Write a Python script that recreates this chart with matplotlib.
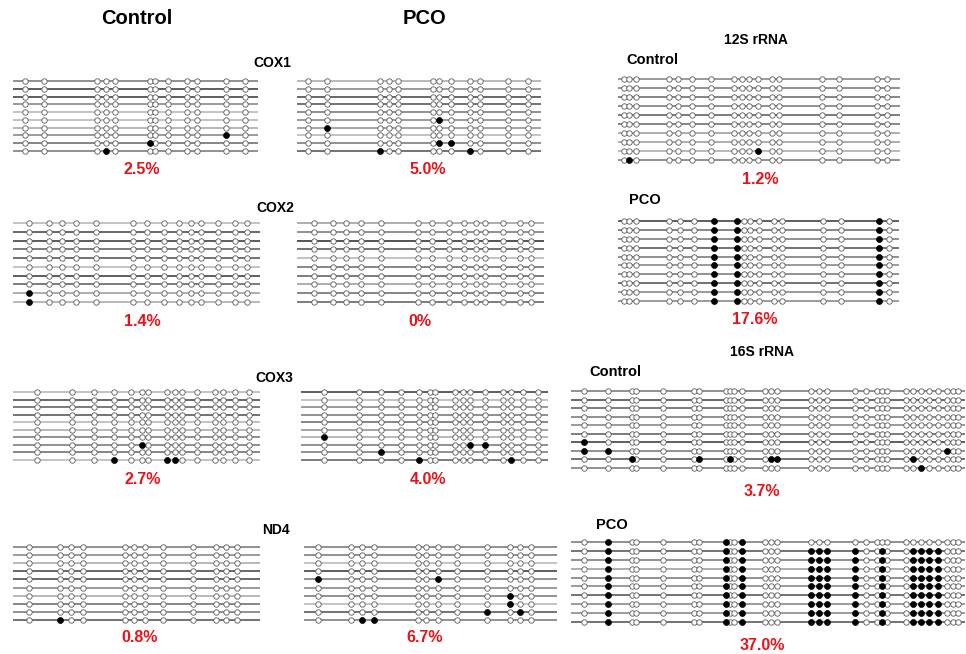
import matplotlib.pyplot as plt
import numpy as np

plt.rcParams['font.family'] = ['Liberation Sans', 'DejaVu Sans']

# CpG site positions along each amplicon (px) and methylated sites per clone (row)
cox1_ctrl_sites = [24.7, 43.7, 97.3, 106.3, 115.3, 150.3, 155.3, 168, 187, 197, 225.7, 244.7]
cox1_ctrl_meth = [[], [], [], [], [], [], [], [10], [5], [3]]
cox1_pco_sites = [307.7, 327, 380.3, 389.3, 398, 433, 438.7, 451.3, 470.3, 480.3, 508, 527.7]
cox1_pco_meth = [[], [], [], [], [], [6], [1], [], [6, 7], [2, 8]]

cox2_ctrl_sites = [28.7, 48.7, 62, 76.3, 96.3, 133, 147.3, 164, 178.7, 191.3, 200.7, 218, 235.3, 247.3]
cox2_ctrl_meth = [[], [], [], [], [], [], [], [], [0], [0]]
cox2_pco_sites = [313.7, 332.7, 346, 361, 381.3, 418, 432, 448.7, 463.7, 476.3, 485.3, 502.7, 520.3, 531.3]
cox2_pco_meth = [[] for _ in range(10)]

cox3_ctrl_sites = [37, 72, 94, 114, 131.3, 142.3, 148, 167.3, 175.3, 182, 197.3, 214.7, 223, 234.7, 248.7]
cox3_ctrl_meth = [[], [], [], [], [], [], [], [5], [], [3, 7, 8]]
cox3_pco_sites = [324.3, 358.7, 381.3, 401.3, 418.7, 429.7, 435.3, 454.7, 462.7, 470.3, 485.3, 502.7, 511.3, 523, 537.7]
cox3_pco_meth = [[], [], [], [], [], [], [0], [9, 10], [2], [4, 12]]

nd4_ctrl_sites = [28.7, 59.7, 70.7, 83, 125.3, 134, 144.7, 163, 193, 216.3, 226.3, 237.3]
nd4_ctrl_meth = [[], [], [], [], [], [], [], [], [], [1]]
nd4_pco_sites = [318, 351.3, 362, 373.7, 418, 426.3, 437.7, 457, 487, 510.3, 520.3, 531.3]
nd4_pco_meth = [[], [], [], [], [0, 6], [], [9], [9], [8, 10], [2, 3]]

s12_ctrl_sites = [623.7, 629.3, 636, 668.7, 677.7, 692, 711, 734.3, 742, 748.7, 758, 772, 778.7, 822, 838.7, 877, 887]
s12_ctrl_meth = [[], [], [], [], [], [], [], [], [10], [1]]
s12_pco_sites = [623.7, 629.3, 636, 668.7, 680.3, 693.7, 713.7, 737, 743.7, 750.3, 758.7, 773.7, 782, 822.7, 841, 878.7, 889.3]
s12_pco_meth = [[6, 7, 15] for _ in range(10)]

s16_sites = [584.3, 608.3, 631.7, 635.7, 662.7, 694.3, 699.3, 725.7, 730, 734.3, 741.7, 765, 771, 777.3,
             811, 819, 826.7, 855, 866, 876.7, 882.3, 887.3, 905.7, 913.3, 921, 929, 937.7, 946.7, 952.5, 958.3]
s16_ctrl_meth = [[], [], [], [], [], [], [0], [0, 1, 27], [2, 6, 8, 12, 13, 23], [24]]
s16_pco_meth = [[1, 7, 10]] + [[1, 7, 10, 14, 15, 16, 17, 20, 23, 24, 25, 26] for _ in range(9)]

# grey level of each clone line
shades = {
    'cox1c': [.45, .2, .2, .5, .7, .7, .65, .5, .4, .45],
    'cox1p': [.65, .5, .25, .3, .45, .5, .55, .7, .45, .3],
    'cox2c': [.7, .25, .2, .35, .3, .7, .2, .35, .6, .65],
    'cox2p': [.6, .45, .15, .3, .7, .4, .35, .6, .4, .35],
    'cox3c': [.7, .25, .35, .3, .7, .65, .45, .45, .4, .7],
    'cox3p': [.2, .7, .5, .45, .4, .55, .65, .45, .45, .35],
    'nd4c': [.45, .5, .65, .25, .25, .5, .65, .4, .45, .3],
    'nd4p': [.45, .45, .7, .2, .45, .5, .45, .7, .3, .45],
    's12c': [.5, .45, .4, .45, .35, .4, .6, .6, .65, .45],
    's12p': [.2, .4, .45, .3, .45, .5, .45, .3, .5, .5],
    's16c': [.45, .25, .35, .45, .5, .35, .2, .45, .3, .45],
    's16p': [.45, .3, .45, .6, .45, .5, .3, .5, .5, .3],
}

fig = plt.figure(figsize=(9.66, 6.54), dpi=100)
ax = fig.add_axes([0, 0, 1, 1])
ax.set_xlim(0, 966)
ax.set_ylim(654, 0)
ax.axis('off')


def panel(sites, meth, shade, x0, x1, ytop, ybot, pct, px, py):
    ys = np.linspace(ytop, ybot, len(meth))
    for r, y in enumerate(ys):
        ax.plot([x0, x1], [y, y], color=str(shade[r]), lw=1.1, zorder=1, solid_capstyle='butt')
        ox = [s for i, s in enumerate(sites) if i not in meth[r]]
        fx = [sites[i] for i in meth[r]]
        ax.plot(ox, [y] * len(ox), 'o', ms=3.9, mfc='white', mec='0.35', mew=0.6, zorder=2)
        ax.plot(fx, [y] * len(fx), 'o', ms=4.3, mfc='black', mec='black', mew=0.5, zorder=3)
    ax.text(px, py, pct, color='#e8141b', fontsize=11.5, fontweight='bold', ha='center', va='center')


panel(cox1_ctrl_sites, cox1_ctrl_meth, shades['cox1c'], 13, 258, 81, 151, '2.5%', 142, 170)
panel(cox1_pco_sites, cox1_pco_meth, shades['cox1p'], 297, 541, 81, 151, '5.0%', 428, 170)
panel(cox2_ctrl_sites, cox2_ctrl_meth, shades['cox2c'], 13, 260, 223, 302, '1.4%', 142, 322)
panel(cox2_pco_sites, cox2_pco_meth, shades['cox2p'], 297, 544, 223, 302, '0%', 420, 322)
panel(cox3_ctrl_sites, cox3_ctrl_meth, shades['cox3c'], 13, 260, 392, 460, '2.7%', 143, 480)
panel(cox3_pco_sites, cox3_pco_meth, shades['cox3p'], 301, 548, 392, 460, '4.0%', 428, 480)
panel(nd4_ctrl_sites, nd4_ctrl_meth, shades['nd4c'], 13, 260, 547, 620, '0.8%', 140, 638)
panel(nd4_pco_sites, nd4_pco_meth, shades['nd4p'], 304, 557, 547, 620, '6.7%', 425, 638)
panel(s12_ctrl_sites, s12_ctrl_meth, shades['s12c'], 618, 900, 79, 160, '1.2%', 760, 180)
panel(s12_pco_sites, s12_pco_meth, shades['s12p'], 618, 899, 221, 301, '17.6%', 755, 320)
panel(s16_sites, s16_ctrl_meth, shades['s16c'], 571, 965, 391, 468, '3.7%', 762, 492)
panel(s16_sites, s16_pco_meth, shades['s16p'], 571, 965, 542, 622, '37.0%', 762, 645)

bold = dict(fontweight='bold', ha='center', va='center', color='black')
ax.text(137, 18, 'Control', fontsize=14.5, **bold)
ax.text(425, 18, 'PCO', fontsize=14.5, **bold)
for label, x, y in [('COX1', 272, 63), ('COX2', 275, 208), ('COX3', 274, 378), ('ND4', 276, 530),
                    ('12S rRNA', 756, 40), ('16S rRNA', 762, 352)]:
    ax.text(x, y, label, fontsize=10, **bold)
for x, y in [(652, 60), (615, 372)]:
    ax.text(x, y, 'Control', fontsize=10.5, **bold)
for x, y in [(645, 200), (612, 525)]:
    ax.text(x, y, 'PCO', fontsize=10.5, **bold)

fig.savefig('out.png', dpi=100)
